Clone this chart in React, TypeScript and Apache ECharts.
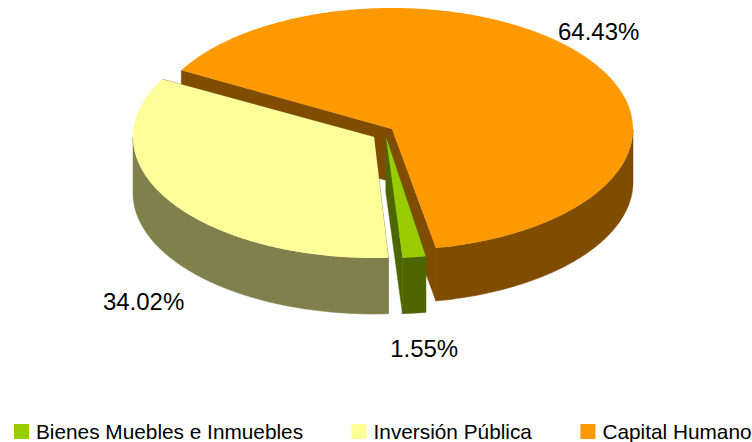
import React, { useEffect, useRef } from "react";
import * as echarts from "echarts";

const categories = ["Bienes Muebles e Inmuebles", "Inversión Pública", "Capital Humano"];
const values = [1.55, 34.02, 64.43];
const topColors = ["#99CC00", "#FFFF99", "#FF9900"];
const sideColors = ["#4D6600", "#80804D", "#804D00"];

// Layout of the tilted pie
const FONT = "'Liberation Sans', Arial, sans-serif";
const RX = 241;
const RY = 121;
const depths = [56, 56, 53];
const START_DEG = 79.5;
const centers = [[386, 137], [374, 137], [392, 129]];
const angleNudges = [1, 1, 0];
const startTrims = [0, 0.5, 1.5];
const labelOffsets = [[10, 91], [-27, 100], [11, -27]];
const stackOrder = [3, 2, 1];

const total = values.reduce((a, b) => a + b, 0);

function sliceAngles(index: number) {
  let start = START_DEG;
  for (let i = 0; i < index; i++) start += (values[i] / total) * 360;
  const span = (values[index] / total) * 360;
  return [start + angleNudges[index] + startTrims[index], start + angleNudges[index] + span];
}

function rim(cx: number, cy: number, deg: number, drop = 0) {
  const a = (deg * Math.PI) / 180;
  return [cx + RX * Math.cos(a), cy + RY * Math.sin(a) + drop];
}

function arc(cx: number, cy: number, from: number, to: number, drop = 0) {
  const pts: number[][] = [];
  const steps = Math.max(2, Math.ceil((to - from) * 2));
  for (let i = 0; i <= steps; i++) pts.push(rim(cx, cy, from + ((to - from) * i) / steps, drop));
  return pts;
}

function makeRenderItem(index: number) {
  return (_params: any, api: any) => {
    const value = api.value(0);
    const [cx, cy] = centers[index];
    const [start, end] = sliceAngles(index);
    const depth = depths[index];
    const side = { fill: sideColors[index], stroke: sideColors[index], lineWidth: 0.5 };
    const children: any[] = [];

    for (const deg of [start, end]) {
      const p = rim(cx, cy, deg);
      children.push({
        type: "polygon",
        silent: true,
        shape: { points: [[cx, cy], p, [p[0], p[1] + depth], [cx, cy + depth]] },
        style: side,
      });
    }
    for (const [lo, hi] of [[0, 180], [360, 540]]) {
      const from = Math.max(start, lo);
      const to = Math.min(end, hi);
      if (to > from) {
        children.push({
          type: "polygon",
          silent: true,
          shape: { points: [...arc(cx, cy, from, to), ...arc(cx, cy, from, to, depth).reverse()] },
          style: side,
        });
      }
    }
    children.push({
      type: "polygon",
      silent: true,
      shape: { points: [[cx, cy], ...arc(cx, cy, start, end)] },
      style: { fill: topColors[index] },
    });
    const mid = rim(cx, cy, (start + end) / 2);
    children.push({
      type: "text",
      silent: true,
      x: mid[0] + labelOffsets[index][0],
      y: mid[1] + labelOffsets[index][1],
      style: {
        text: value.toFixed(2) + "%",
        fill: "#000",
        font: `24px ${FONT}`,
        align: "center",
        verticalAlign: "middle",
      },
    });
    return { type: "group", children };
  };
}

export default function App() {
  const ref = useRef<HTMLDivElement>(null);
  useEffect(() => {
    const chart = echarts.init(ref.current!, null, { renderer: "svg" });
    chart.setOption({
      animation: false,
      backgroundColor: "#fff",
      legend: {
        data: categories,
        left: 14,
        top: 421,
        width: 800,
        padding: 0,
        itemWidth: 15,
        itemHeight: 15,
        itemGap: 48.5,
        icon: "rect",
        selectedMode: false,
        textStyle: {
          fontFamily: FONT,
          fontSize: 20.8,
          lineHeight: 17,
          color: "#000",
          padding: [0, 0, 4, 2],
        },
      },
      series: categories.map((name, i) => ({
        type: "custom",
        name,
        coordinateSystem: "none",
        z: stackOrder[i],
        itemStyle: { color: topColors[i] },
        data: [[values[i]]],
        renderItem: makeRenderItem(i),
      })),
    });
    return () => chart.dispose();
  }, []);
  return <div ref={ref} style={{ position: "fixed", left: 0, top: 0, width: 752, height: 442 }} />;
}
